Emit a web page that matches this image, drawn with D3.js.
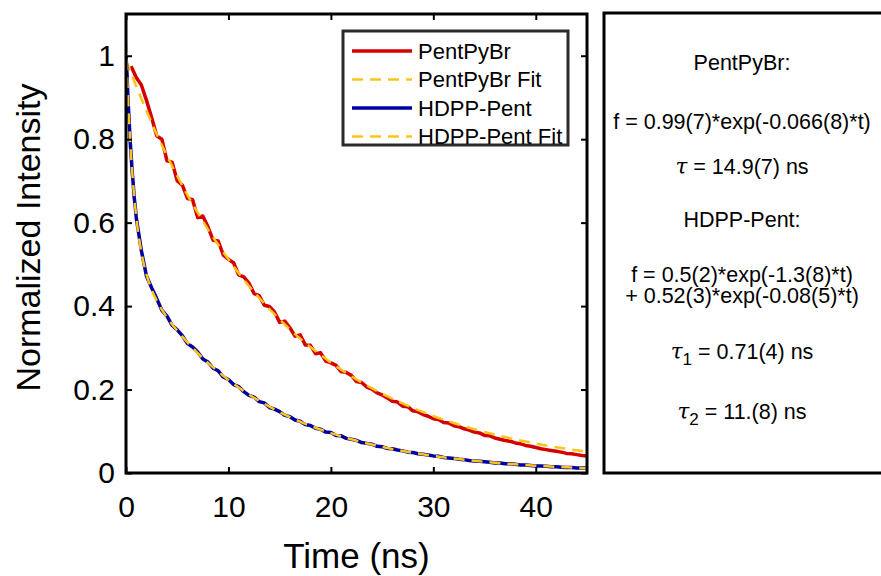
<!DOCTYPE html>
<html>
<head>
<meta charset="utf-8">
<script src="https://cdn.jsdelivr.net/npm/d3@7"></script>
<style>
  body { margin: 0; background: #fff; }
  svg { font-family: "Liberation Sans", Arial, sans-serif; }
</style>
</head>
<body>
<div id="chart"></div>
<script>
const pentTime = d3.range(0.5, 45.01, 0.5);
const pentData = [0.975, 0.948, 0.930, 0.893, 0.852, 0.808, 0.800, 0.748, 0.745, 0.700,
  0.690, 0.658, 0.655, 0.612, 0.616, 0.590, 0.558, 0.556, 0.522, 0.512,
  0.504, 0.475, 0.470, 0.455, 0.430, 0.425, 0.402, 0.399, 0.386, 0.361,
  0.364, 0.348, 0.328, 0.331, 0.307, 0.306, 0.286, 0.288, 0.268, 0.264,
  0.258, 0.243, 0.241, 0.234, 0.219, 0.217, 0.206, 0.201, 0.192, 0.187,
  0.180, 0.172, 0.170, 0.160, 0.159, 0.149, 0.147, 0.140, 0.136, 0.130,
  0.128, 0.121, 0.120, 0.113, 0.111, 0.106, 0.103, 0.098, 0.096, 0.090,
  0.089, 0.084, 0.081, 0.078, 0.076, 0.072, 0.070, 0.066, 0.064, 0.061,
  0.058, 0.056, 0.054, 0.052, 0.050, 0.047, 0.046, 0.044, 0.042, 0.041];

const hdppTime = d3.range(0, 0.95, 0.1).concat(d3.range(1, 45.01, 0.5));
const hdppData = [0.998, 0.955, 0.893, 0.848, 0.797, 0.762, 0.723, 0.694, 0.660, 0.640,
  0.612, 0.533, 0.472, 0.444, 0.418, 0.390, 0.376, 0.354, 0.343, 0.329,
  0.310, 0.302, 0.290, 0.273, 0.266, 0.251, 0.245, 0.230, 0.224, 0.212,
  0.207, 0.195, 0.186, 0.182, 0.171, 0.168, 0.157, 0.153, 0.147, 0.138,
  0.135, 0.127, 0.124, 0.116, 0.114, 0.107, 0.105, 0.098, 0.097, 0.090,
  0.089, 0.083, 0.081, 0.078, 0.073, 0.071, 0.069, 0.064, 0.063, 0.059,
  0.058, 0.055, 0.053, 0.050, 0.049, 0.046, 0.045, 0.043, 0.041, 0.040,
  0.037, 0.036, 0.035, 0.033, 0.032, 0.030, 0.029, 0.028, 0.027, 0.026,
  0.024, 0.024, 0.022, 0.022, 0.021, 0.019, 0.019, 0.018, 0.017, 0.017,
  0.016, 0.015, 0.015, 0.014, 0.013, 0.013, 0.012, 0.012, 0.012];

// fit curves, sampled
const pentFitTime = d3.range(0, 45.01, 1);
const pentFit = [0.990, 0.927, 0.868, 0.812, 0.760, 0.712, 0.666, 0.624, 0.584, 0.547,
  0.512, 0.479, 0.448, 0.420, 0.393, 0.368, 0.344, 0.322, 0.302, 0.283,
  0.2645, 0.2476, 0.2318, 0.2170, 0.2031, 0.1901, 0.1780, 0.1666, 0.1560, 0.1460,
  0.1367, 0.1280, 0.1198, 0.1121, 0.1050, 0.0983, 0.0920, 0.0861, 0.0806, 0.0755,
  0.0707, 0.0661, 0.0619, 0.0580, 0.0543, 0.0508];

const hdppFitTime = [0, 0.1, 0.2, 0.3, 0.4, 0.5, 0.75, 1, 1.5, 2, 2.5, 3, 4, 5, 6, 7, 8, 9, 10,
  11, 12, 13, 14, 15, 16, 17, 18, 19, 20, 22, 24, 26, 28, 30, 32, 34, 36, 38, 40, 42, 44, 45];
const hdppFit = [1.035, 0.955, 0.897, 0.845, 0.800, 0.759, 0.677, 0.614, 0.529, 0.476, 0.440,
  0.413, 0.373, 0.341, 0.313, 0.287, 0.264, 0.243, 0.223, 0.205, 0.188, 0.173, 0.159,
  0.146, 0.134, 0.123, 0.113, 0.104, 0.0956, 0.0807, 0.0681, 0.0575, 0.0485, 0.0410,
  0.0346, 0.0292, 0.0246, 0.0208, 0.0176, 0.0148, 0.0125, 0.0115];

const xTicks = [0, 10, 20, 30, 40];
const yTicks = [0, 0.2, 0.4, 0.6, 0.8, 1];
const legendLabels = ["PentPyBr", "PentPyBr Fit", "HDPP-Pent", "HDPP-Pent Fit"];

const red = "#d40000", blue = "#0000a0", gold = "#ffc41a";

const W = 881, H = 576;
const margin = { top: 14, right: 294, bottom: 103, left: 126 };
const width = W - margin.left - margin.right;
const height = H - margin.top - margin.bottom;

const root = d3.select("#chart").append("svg")
    .attr("width", W)
    .attr("height", H);

const svg = root.append("g")
    .attr("transform", "translate(" + margin.left + "," + margin.top + ")");

const x = d3.scaleLinear().domain([0, 45]).range([0, width]);
const y = d3.scaleLinear().domain([0, 1.1]).range([height, 0]);

svg.append("clipPath").attr("id", "clip")
    .append("rect").attr("width", width).attr("height", height);

const line = d3.line()
    .x(d => x(d[0]))
    .y(d => y(d[1]));
const smooth = d3.line()
    .x(d => x(d[0]))
    .y(d => y(d[1]))
    .curve(d3.curveMonotoneX);

const plot = svg.append("g").attr("clip-path", "url(#clip)");

plot.append("path")
    .datum(d3.zip(pentTime, pentData))
    .attr("d", line)
    .attr("fill", "none").attr("stroke", red).attr("stroke-width", 3.5)
    .attr("stroke-linejoin", "round");
plot.append("path")
    .datum(d3.zip(pentFitTime, pentFit))
    .attr("d", smooth)
    .attr("fill", "none").attr("stroke", gold).attr("stroke-width", 2.5)
    .attr("stroke-dasharray", "11,7");
plot.append("path")
    .datum(d3.zip(hdppTime, hdppData))
    .attr("d", line)
    .attr("fill", "none").attr("stroke", blue).attr("stroke-width", 3.5)
    .attr("stroke-linejoin", "round");
plot.append("path")
    .datum(d3.zip(hdppFitTime, hdppFit))
    .attr("d", smooth)
    .attr("fill", "none").attr("stroke", gold).attr("stroke-width", 2.5)
    .attr("stroke-dasharray", "11,7");

// axes with inward ticks on all four sides
const xAxis = svg.append("g")
    .attr("transform", "translate(0," + height + ")")
    .call(d3.axisBottom(x).tickValues(xTicks).tickSize(-6).tickPadding(23).tickFormat(d3.format("d")));
const yAxis = svg.append("g")
    .call(d3.axisLeft(y).tickValues(yTicks).tickSize(-6).tickPadding(11).tickFormat(d => d === 0 || d === 1 ? d : d3.format(".1f")(d)));
svg.append("g")
    .call(d3.axisTop(x).tickValues(xTicks).tickSize(-6).tickFormat(""));
svg.append("g")
    .attr("transform", "translate(" + width + ",0)")
    .call(d3.axisRight(y).tickValues(yTicks).tickSize(-6).tickFormat(""));

svg.selectAll(".domain").remove();
svg.selectAll(".tick line").attr("stroke", "#000").attr("stroke-width", 2);
xAxis.selectAll("text").attr("font-size", 30).attr("fill", "#000");
yAxis.selectAll("text").attr("font-size", 30).attr("fill", "#000");

svg.append("rect")
    .attr("width", width).attr("height", height)
    .attr("fill", "none").attr("stroke", "#000").attr("stroke-width", 3);

svg.append("text")
    .attr("x", width / 2).attr("y", height + 95)
    .attr("text-anchor", "middle").attr("font-size", 35)
    .text("Time (ns)");
svg.append("text")
    .attr("transform", "translate(-86," + (height / 2 - 6) + ") rotate(-90)")
    .attr("text-anchor", "middle").attr("font-size", 34)
    .text("Normalized Intensity");

// legend
const legend = svg.append("g").attr("transform", "translate(217,17)");
legend.append("rect")
    .attr("width", 225).attr("height", 114)
    .attr("fill", "#fff").attr("stroke", "#2b2b2b").attr("stroke-width", 3);
const styles = [
  { color: red, dash: null, w: 3.5 },
  { color: gold, dash: "11,7", w: 2.5 },
  { color: blue, dash: null, w: 3.5 },
  { color: gold, dash: "11,7", w: 2.5 }
];
legendLabels.forEach(function(label, i) {
    const ly = 20 + i * 28.5;
    legend.append("line")
        .attr("x1", 9).attr("x2", 69).attr("y1", ly).attr("y2", ly)
        .attr("stroke", styles[i].color).attr("stroke-width", styles[i].w)
        .attr("stroke-dasharray", styles[i].dash);
    legend.append("text")
        .attr("x", 75).attr("y", ly + 7.5)
        .attr("font-size", 22)
        .text(label);
});

// fit results panel
const panel = root.append("g");
panel.append("rect")
    .attr("x", 604).attr("y", 13).attr("width", 320).attr("height", 460)
    .attr("fill", "#fff").attr("stroke", "#000").attr("stroke-width", 3);

const cx = 742;
function addLine(yy, parts) {
    const t = panel.append("text")
        .attr("x", cx).attr("y", yy)
        .attr("text-anchor", "middle").attr("font-size", 21.5);
    parts.forEach(function(p) {
        const s = t.append("tspan").text(p.t);
        if (p.tau) s.attr("font-family", "'DejaVu Serif', 'Liberation Serif', serif").attr("font-style", "italic");
        if (p.sub) s.attr("baseline-shift", "-35%").attr("font-size", 17);
    });
}
addLine(70, [{ t: "PentPyBr:" }]);
addLine(129, [{ t: "f = 0.99(7)*exp(-0.066(8)*t)" }]);
addLine(174, [{ t: "τ", tau: true }, { t: " = 14.9(7) ns" }]);
addLine(227, [{ t: "HDPP-Pent:" }]);
addLine(282, [{ t: "f = 0.5(2)*exp(-1.3(8)*t)" }]);
addLine(303, [{ t: "+ 0.52(3)*exp(-0.08(5)*t)" }]);
addLine(359, [{ t: "τ", tau: true }, { t: "1", sub: true }, { t: " = 0.71(4) ns" }]);
addLine(419, [{ t: "τ", tau: true }, { t: "2", sub: true }, { t: " = 11.(8) ns" }]);
</script>
</body>
</html>
